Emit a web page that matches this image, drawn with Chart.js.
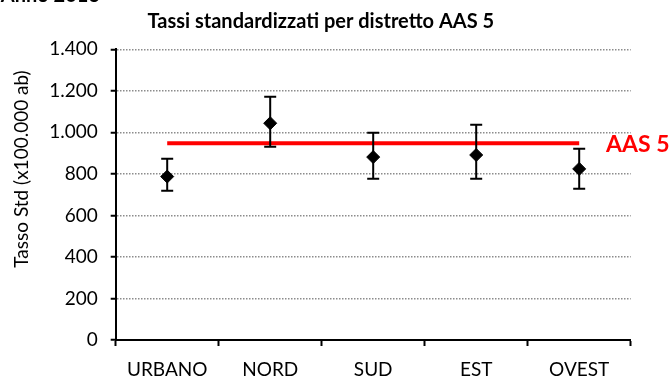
<!DOCTYPE html>
<html>
<head>
<meta charset="utf-8">
<title>Tassi standardizzati per distretto AAS 5</title>
<script src="https://cdn.jsdelivr.net/npm/chart.js@4/dist/chart.umd.min.js"></script>
<style>
  html, body { margin: 0; padding: 0; background: #fff; }
  canvas { display: block; }
</style>
</head>
<body>
<canvas id="chart" width="669" height="377"></canvas>
<script>
// District labels and standardised rates (per 100.000 inhabitants)
const categories = ['URBANO', 'NORD', 'SUD', 'EST', 'OVEST'];
const rates = [787, 1044, 881, 891, 824];
const lowerCI = [719, 931, 777, 777, 729];
const upperCI = [873, 1172, 998, 1037, 921];
// Overall AAS 5 reference rate
const aasRate = 947;
const aasLabel = 'AAS 5';
// Axis settings
const yMin = 0, yMax = 1400, yStep = 200;
const titleText = 'Tassi standardizzati per distretto AAS 5';
const yTitleText = 'Tasso Std (x100.000 ab)';
const yearText = 'Anno 2013';

const FONT = 'Lato, "Open Sans", sans-serif';
Chart.defaults.font.family = FONT;
Chart.defaults.color = '#000';

function fmtThousands(v) {
  return String(v).replace(/\B(?=(\d{3})+(?!\d))/g, '.');
}

// Vertical confidence-interval bars with caps, plus annotations
const errorBarsPlugin = {
  id: 'errorBars',
  afterDatasetsDraw(chart) {
    const { ctx, scales: { x, y } } = chart;
    ctx.save();
    ctx.strokeStyle = '#000';
    ctx.lineWidth = 2;
    const cap = 6;
    categories.forEach((c, i) => {
      const px = x.getPixelForValue(i);
      const yt = y.getPixelForValue(upperCI[i]);
      const yb = y.getPixelForValue(lowerCI[i]);
      ctx.beginPath();
      ctx.moveTo(px, yt); ctx.lineTo(px, yb);
      ctx.moveTo(px - cap, yt); ctx.lineTo(px + cap, yt);
      ctx.moveTo(px - cap, yb); ctx.lineTo(px + cap, yb);
      ctx.stroke();
    });
    // label for the reference line
    ctx.fillStyle = '#ff0000';
    ctx.font = 'bold 23px ' + FONT;
    ctx.textAlign = 'left';
    ctx.textBaseline = 'middle';
    ctx.fillText(aasLabel, 606, y.getPixelForValue(aasRate) + 1);
    ctx.restore();
  },
  afterDraw(chart) {
    const { ctx } = chart;
    ctx.save();
    ctx.fillStyle = '#000';
    // rotated y-axis title
    ctx.translate(22, 169);
    ctx.rotate(-Math.PI / 2);
    ctx.font = '19px ' + FONT;
    ctx.textAlign = 'center';
    ctx.textBaseline = 'middle';
    ctx.fillText(yTitleText, 0, 0);
    ctx.restore();
    ctx.save();
    ctx.fillStyle = '#000';
    ctx.font = 'bold 20px ' + FONT;
    ctx.textAlign = 'right';
    ctx.textBaseline = 'alphabetic';
    ctx.fillText(yearText, 100, 2);
    ctx.restore();
  }
};

new Chart(document.getElementById('chart'), {
  type: 'line',
  data: {
    labels: categories,
    datasets: [
      {
        label: aasLabel,
        data: categories.map(() => aasRate),
        borderColor: '#ff0000',
        borderWidth: 4,
        pointRadius: 0,
        fill: false,
        order: 2
      },
      {
        label: 'Tasso Std',
        data: rates,
        showLine: false,
        pointStyle: 'rectRot',
        pointRadius: 6.5,
        pointBackgroundColor: '#000',
        pointBorderColor: '#000',
        pointBorderWidth: 1,
        order: 1
      }
    ]
  },
  options: {
    responsive: false,
    animation: false,
    devicePixelRatio: 1,
    layout: { padding: { left: 11, right: 38.3, top: 0, bottom: 0 } },
    plugins: {
      legend: { display: false },
      tooltip: { enabled: false },
      title: {
        display: true,
        text: titleText,
        font: { family: FONT, size: 20, weight: 'bold' },
        color: '#000',
        padding: { top: 10, bottom: 15.3 }
      }
    },
    scales: {
      x: {
        type: 'category',
        offset: true,
        grid: {
          offset: true,
          drawOnChartArea: false,
          drawTicks: true,
          tickLength: 6,
          tickColor: '#000',
          tickWidth: 2
        },
        border: { color: '#000', width: 2 },
        ticks: { font: { size: 19 }, color: '#000', padding: 12, maxRotation: 0 },
        afterFit(scale) { scale.height = 37; }
      },
      y: {
        min: yMin,
        max: yMax,
        ticks: {
          stepSize: yStep,
          font: { size: 19 },
          color: '#000',
          padding: 13,
          callback: (v) => fmtThousands(v)
        },
        grid: {
          color: '#8c8c8c',
          lineWidth: 1.5,
          drawTicks: true,
          tickLength: 5,
          tickColor: '#000',
          tickWidth: 2,
          tickBorderDash: []
        },
        border: { color: '#000', width: 2, dash: [1.5, 1.5] },
        afterFit(scale) { scale.width = 104.7; }
      }
    }
  },
  plugins: [errorBarsPlugin]
});
</script>
</body>
</html>
